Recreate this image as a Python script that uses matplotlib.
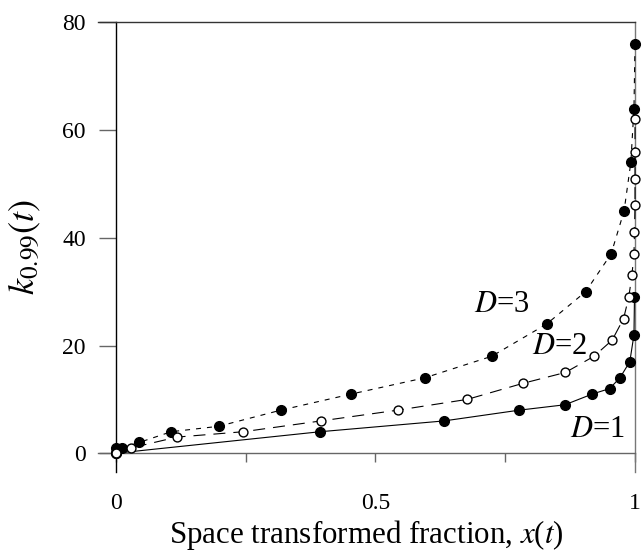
import matplotlib
matplotlib.use("Agg")
import matplotlib.pyplot as plt
from matplotlib.ticker import FixedLocator

plt.rcParams['font.family'] = ['Liberation Serif', 'DejaVu Serif']
plt.rcParams['mathtext.fontset'] = 'stix'

# Data
x_d1 = [0.0, 0.394, 0.632, 0.777, 0.865, 0.918, 0.951, 0.971, 0.990, 0.998, 0.999]
y_d1 = [0, 4, 6, 8, 9, 11, 12, 14, 17, 22, 29]

x_d2 = [0.0, 0.030, 0.118, 0.246, 0.395, 0.543, 0.677, 0.785, 0.866, 0.921, 0.956,
        0.978, 0.988, 0.994, 0.998, 0.999, 1.0, 1.0, 1.0, 1.0]
y_d2 = [0, 1, 3, 4, 6, 8, 10, 13, 15, 18, 21, 25, 29, 33, 37, 41, 46, 51, 56, 62]

x_d3 = [0.0, 0.001, 0.013, 0.045, 0.107, 0.198, 0.318, 0.454, 0.595, 0.724, 0.830,
        0.905, 0.954, 0.979, 0.992, 0.998, 1.0]
y_d3 = [0, 1, 1, 2, 4, 5, 8, 11, 14, 18, 24, 30, 37, 45, 54, 64, 76]

curve_labels = ['$D$=1', '$D$=2', '$D$=3']
label_pos = [(0.928, 4.5), (0.854, 19.8), (0.744, 27.7)]

x_ticks = [0, 0.5, 1]
x_tick_labels = ['0', '0.5', '1']
x_minor = [0.25, 0.75]
y_ticks = [0, 20, 40, 60, 80]

fig = plt.figure(figsize=(6.42, 5.58), dpi=100)
ax = fig.add_axes([0.1531, 0.1547, 0.8360, 0.8053])
ax.set_xlim(-0.0335, 1.0)
ax.set_ylim(-3.42, 80)

lw = 0.8
ax.plot(x_d1, y_d1, color='black', lw=lw, linestyle='-', marker='o', ms=7.0,
        mfc='black', mec='black', clip_on=False, zorder=3)
ax.plot(x_d2, y_d2, color='black', lw=lw, linestyle=(0, (10.8, 7.2)), marker='o', ms=6.4,
        mfc='white', mec='black', mew=1.0, clip_on=False, zorder=4)
ax.plot(x_d3, y_d3, color='black', lw=lw, linestyle=(0, (4.5, 5.4)), marker='o', ms=7.0,
        mfc='black', mec='black', clip_on=False, zorder=3)

for lab, (lx, ly) in zip(curve_labels, label_pos):
    ax.text(lx, ly, lab, fontsize=22, ha='center', va='center', zorder=5)

# Spines
ax.spines['left'].set_position(('data', 0))
ax.spines['bottom'].set_position(('data', 0))
ax.spines['left'].set_color('black')
ax.spines['bottom'].set_color('#666666')
ax.spines['top'].set_color('#333333')
ax.spines['right'].set_color('#777777')
for s in ax.spines.values():
    s.set_linewidth(1.0)

ax.xaxis.set_major_locator(FixedLocator(x_ticks))
ax.set_xticklabels(x_tick_labels)
ax.xaxis.set_minor_locator(FixedLocator(x_minor))
ax.set_yticks(y_ticks)

ax.tick_params(axis='y', which='major', direction='out', length=12.5, width=1.0,
               color='#666666', labelsize=17, pad=9)
ax.tick_params(axis='x', which='both', direction='out', length=6.8, width=1.0,
               color='#666666', labelsize=17, pad=22)
ax.tick_params(top=False, right=False)

ax.set_xlabel('Space transformed fraction, $x$($t$)', fontsize=22.3)
ax.xaxis.set_label_coords(0.5, -0.103)
ax.set_ylabel('$k_{0.99}(t)$', fontsize=26)
ax.yaxis.set_label_coords(-0.103, 0.5)

fig.savefig('out.png', dpi=100)
